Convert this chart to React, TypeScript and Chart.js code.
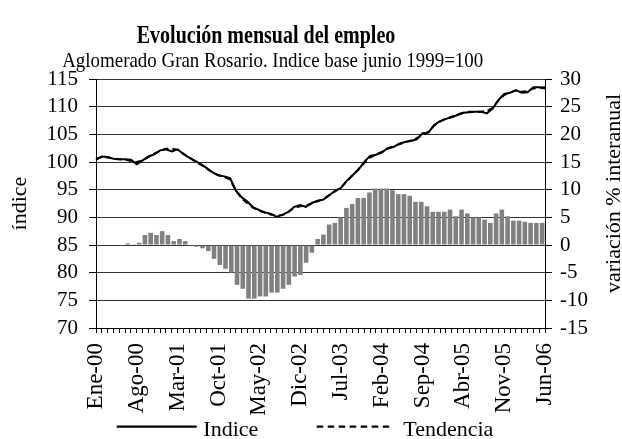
import React, { useEffect, useRef } from "react";
import { Chart, registerables } from "chart.js";

Chart.register(...registerables);

const TITLE = "Evolución mensual del empleo";
const SUBTITLE = "Aglomerado Gran Rosario. Indice base junio 1999=100";
const LEFT_TITLE = "índice";
const RIGHT_TITLE = "variación % interanual";
const LEGEND_LABELS = ["Indice", "Tendencia"];

const CATEGORIES = [
  "Ene-00", "Feb-00", "Mar-00", "Abr-00", "May-00", "Jun-00", "Jul-00", "Ago-00", "Sep-00", "Oct-00", "Nov-00", "Dic-00",
  "Ene-01", "Feb-01", "Mar-01", "Abr-01", "May-01", "Jun-01", "Jul-01", "Ago-01", "Sep-01", "Oct-01", "Nov-01", "Dic-01",
  "Ene-02", "Feb-02", "Mar-02", "Abr-02", "May-02", "Jun-02", "Jul-02", "Ago-02", "Sep-02", "Oct-02", "Nov-02", "Dic-02",
  "Ene-03", "Feb-03", "Mar-03", "Abr-03", "May-03", "Jun-03", "Jul-03", "Ago-03", "Sep-03", "Oct-03", "Nov-03", "Dic-03",
  "Ene-04", "Feb-04", "Mar-04", "Abr-04", "May-04", "Jun-04", "Jul-04", "Ago-04", "Sep-04", "Oct-04", "Nov-04", "Dic-04",
  "Ene-05", "Feb-05", "Mar-05", "Abr-05", "May-05", "Jun-05", "Jul-05", "Ago-05", "Sep-05", "Oct-05", "Nov-05", "Dic-05",
  "Ene-06", "Feb-06", "Mar-06", "Abr-06", "May-06", "Jun-06",
];

const TICK_LABELS = [
  "Ene-00", "Ago-00", "Mar-01", "Oct-01", "May-02", "Dic-02",
  "Jul-03", "Feb-04", "Sep-04", "Abr-05", "Nov-05", "Jun-06",
];

const INDICE = [
  100.4, 101.0, 100.9, 100.6, 100.5, 100.5, 100.4, 99.6, 100.3, 101.0,
  101.4, 102.1, 102.3, 101.9, 102.3, 101.4, 100.8, 100.2, 99.6, 98.9,
  98.1, 97.6, 97.4, 97.1, 94.8, 93.6, 92.8, 91.8, 91.3, 90.9,
  90.6, 90.1, 90.5, 91.0, 91.9, 92.2, 91.9, 92.6, 93.0, 93.2,
  94.0, 94.8, 95.3, 96.6, 97.6, 98.6, 100.0, 101.1, 101.3, 101.7,
  102.5, 102.7, 103.3, 103.6, 103.8, 104.1, 105.2, 105.3, 106.7, 107.4,
  107.8, 108.1, 108.5, 108.9, 109.0, 109.1, 109.1, 108.8, 109.6, 111.2,
  112.3, 112.5, 113.0, 112.5, 112.6, 113.5, 113.5, 113.3,
];

const TENDENCIA = [
  100.6, 100.9, 100.8, 100.6, 100.5, 100.4, 100.2, 100.0, 100.3, 100.9,
  101.5, 102.0, 102.4, 102.4, 102.2, 101.5, 100.8, 100.1, 99.5, 98.8,
  98.1, 97.6, 97.3, 96.8, 94.8, 93.4, 92.5, 91.7, 91.2, 90.8,
  90.5, 90.3, 90.4, 91.0, 91.7, 92.0, 92.1, 92.5, 92.9, 93.3,
  94.0, 94.7, 95.4, 96.5, 97.6, 98.7, 99.8, 100.8, 101.4, 101.8,
  102.4, 102.8, 103.2, 103.6, 103.9, 104.3, 104.9, 105.5, 106.6, 107.3,
  107.8, 108.2, 108.6, 108.9, 109.1, 109.1, 109.1, 109.2, 109.8, 111.1,
  112.1, 112.6, 112.9, 112.7, 112.8, 113.3, 113.4, 113.5,
];

const VARIACION = [
  null, null, null, null, null, 0.3, 0.05, 0.4, 1.8, 2.2,
  1.8, 2.5, 1.8, 0.7, 1.1, 0.7, -0.2, -0.3, -0.6, -1.1,
  -2.5, -3.6, -4.3, -5.0, -7.2, -7.9, -9.7, -9.7, -9.3, -9.3,
  -8.6, -8.6, -7.9, -7.2, -5.7, -5.4, -3.2, -1.4, 1.1, 1.9,
  3.7, 4.0, 5.0, 6.7, 7.4, 8.5, 8.5, 9.5, 10.2, 10.2,
  10.2, 9.9, 9.2, 9.2, 8.9, 7.8, 7.8, 7.0, 6.0, 6.0,
  6.0, 6.4, 5.2, 6.4, 5.7, 5.0, 5.0, 4.6, 4.0, 5.7,
  6.4, 5.2, 4.4, 4.4, 4.2, 4.0, 4.0, 4.0,
];

const FONT = "'Liberation Serif', 'Times New Roman', serif";

const textPlugin = {
  id: "customTexts",
  afterDraw(chart: any) {
    const ctx = chart.ctx as CanvasRenderingContext2D;
    ctx.save();
    ctx.fillStyle = "#000";
    ctx.textBaseline = "alphabetic";

    // Title
    ctx.font = `bold 26px ${FONT}`;
    ctx.textAlign = "center";
    ctx.save();
    ctx.translate(266, 42.5);
    ctx.scale(0.77, 1);
    ctx.fillText(TITLE, 0, 0);
    ctx.restore();

    // Subtitle
    ctx.font = `22px ${FONT}`;
    ctx.save();
    ctx.translate(272.7, 66.5);
    ctx.scale(0.86, 1);
    ctx.fillText(SUBTITLE, 0, 0);
    ctx.restore();

    // Right axis title
    ctx.font = `22px ${FONT}`;
    ctx.save();
    ctx.translate(620, 193.5);
    ctx.rotate(-Math.PI / 2);
    ctx.textAlign = "center";
    ctx.fillText(RIGHT_TITLE, 0, 0);
    ctx.restore();

    // Legend
    const ly = 426.7;
    ctx.strokeStyle = "#000";
    ctx.lineWidth = 2.2;
    ctx.beginPath();
    ctx.moveTo(116.7, ly);
    ctx.lineTo(196.7, ly);
    ctx.stroke();
    ctx.setLineDash([6.5, 4.5]);
    ctx.beginPath();
    ctx.moveTo(316.7, ly);
    ctx.lineTo(393.3, ly);
    ctx.stroke();
    ctx.setLineDash([]);
    ctx.font = `22px ${FONT}`;
    ctx.textAlign = "left";
    ctx.fillText(LEGEND_LABELS[0], 203.3, 436);
    ctx.fillText(LEGEND_LABELS[1], 403.3, 436);
    ctx.restore();
  },
};

export default function App() {
  const canvasRef = useRef<HTMLCanvasElement | null>(null);

  useEffect(() => {
    if (!canvasRef.current) return;
    Chart.defaults.font.family = FONT;
    Chart.defaults.color = "#000";
    const chart = new Chart(canvasRef.current, {
      type: "line",
      data: {
        labels: CATEGORIES,
        datasets: [
          {
            type: "line",
            label: "Indice",
            data: INDICE,
            borderColor: "#000",
            borderWidth: 2,
            pointRadius: 0,
            tension: 0,
            xAxisID: "x",
            yAxisID: "y",
          },
          {
            type: "line",
            label: "Tendencia",
            data: TENDENCIA,
            borderColor: "#000",
            borderWidth: 2,
            borderDash: [6, 4],
            pointRadius: 0,
            tension: 0,
            xAxisID: "x",
            yAxisID: "y",
          },
          {
            type: "bar",
            label: "variación % interanual",
            data: VARIACION as any,
            backgroundColor: "#808080",
            borderWidth: 0,
            inflateAmount: 0,
            grouped: false,
            barThickness: 4.6,
            xAxisID: "x2",
            yAxisID: "y2",
          },
        ],
      },
      options: {
        responsive: false,
        animation: false,
        devicePixelRatio: 1,
        layout: { padding: { top: 79, left: 0, right: 0, bottom: 0 } },
        plugins: {
          legend: { display: false },
          title: { display: false },
          tooltip: { enabled: false },
        },
        scales: {
          x: {
            type: "category",
            position: "bottom",
            offset: false,
            grid: {
              display: true,
              drawOnChartArea: false,
              drawTicks: true,
              tickLength: 5,
              tickColor: "#000",
              offset: false,
            },
            border: { display: true, color: "#000", width: 1 },
            ticks: {
              autoSkip: false,
              minRotation: 90,
              maxRotation: 90,
              padding: 10,
              font: { size: 23, family: FONT },
              color: "#000",
              callback: function (this: any, value: any, index: number) {
                const lbl = CATEGORIES[index];
                return TICK_LABELS.includes(lbl) ? lbl : "";
              },
            },
            afterFit: (s: any) => {
              s.height = 111;
            },
          },
          x2: {
            type: "category",
            display: false,
            offset: true,
            grid: { offset: true },
          },
          y: {
            type: "linear",
            position: "left",
            min: 70,
            max: 115,
            ticks: {
              stepSize: 5,
              autoSkip: false,
              padding: 11,
              font: { size: 21, family: FONT },
              color: "#000",
            },
            grid: {
              color: "#333",
              lineWidth: 1,
              drawTicks: true,
              tickLength: 7,
              tickColor: "#000",
            },
            border: { display: true, color: "#000", width: 1 },
            title: {
              display: true,
              text: LEFT_TITLE,
              font: { size: 22, family: FONT },
              color: "#000",
              padding: { top: 7, bottom: 0 },
            },
            afterFit: (s: any) => {
              s.width = 96;
            },
          },
          y2: {
            type: "linear",
            position: "right",
            min: -15,
            max: 30,
            ticks: {
              stepSize: 5,
              autoSkip: false,
              padding: 8,
              font: { size: 21, family: FONT },
              color: "#000",
            },
            grid: {
              drawOnChartArea: false,
              drawTicks: true,
              tickLength: 7,
              tickColor: "#000",
            },
            border: { display: true, color: "#000", width: 1 },
            afterFit: (s: any) => {
              s.width = 77;
            },
          },
        },
      },
      plugins: [textPlugin],
    });
    return () => chart.destroy();
  }, []);

  return (
    <div style={{ position: "absolute", left: 0, top: 0, width: 622, height: 439, background: "#fff" }}>
      <canvas ref={canvasRef} width={622} height={439} />
    </div>
  );
}
